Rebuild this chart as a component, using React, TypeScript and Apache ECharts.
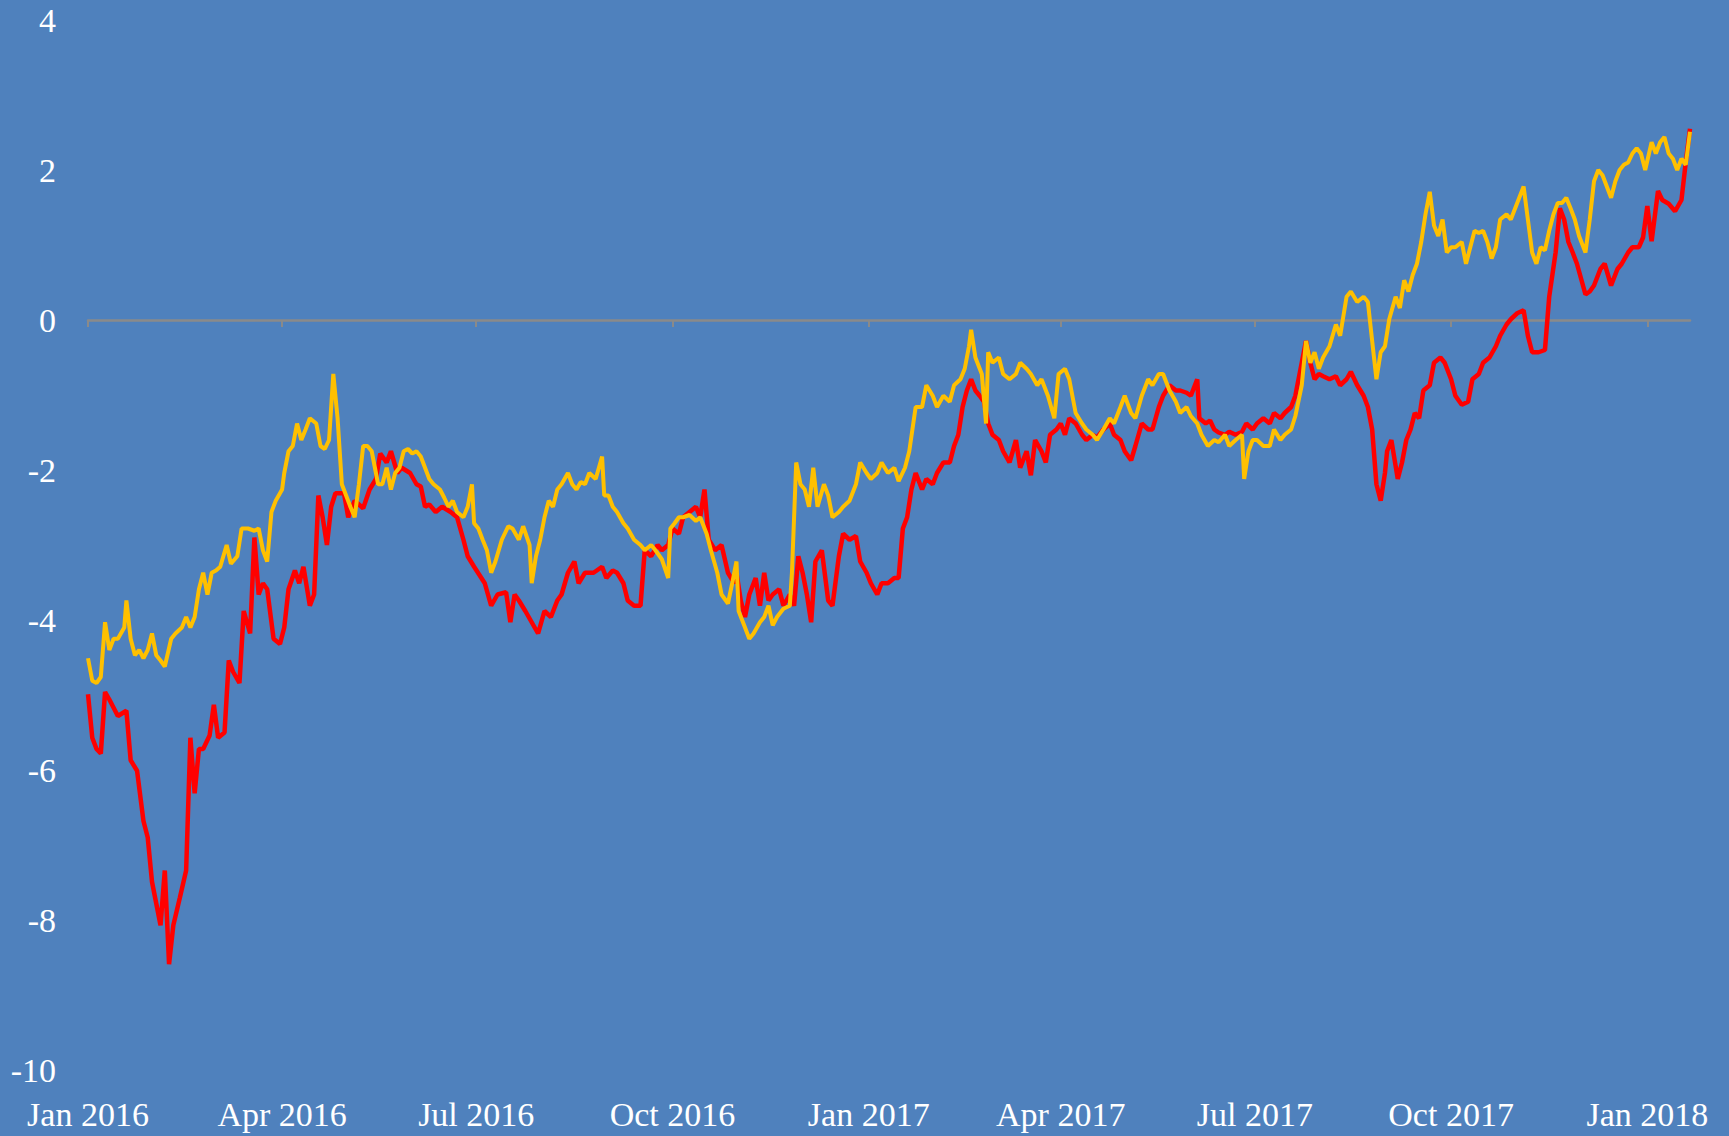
import React, { useEffect, useRef } from "react";
import * as echarts from "echarts";

// x values are days since 2016-01-01
const tickDays = [0, 91, 182, 274, 366, 456, 547, 639, 731];
const tickLabels = ["Jan 2016", "Apr 2016", "Jul 2016", "Oct 2016", "Jan 2017", "Apr 2017", "Jul 2017", "Oct 2017", "Jan 2018"];
const yTicks = [-10, -8, -6, -4, -2, 0, 2, 4];

const redDays = [0,2,4,6,8,10,14,18,20,23,26,28,30,32,34,36,38,40,43,46,48,50,52,54,57,59,61,64,66,68,71,73,76,78,80,82,84,87,90,92,94,97,99,101,104,106,108,110,112,114,116,120,122,125,129,132,135,137,140,142,145,147,151,154,156,158,160,163,166,170,173,176,178,181,186,189,192,196,198,200,202,205,208,211,214,217,220,222,225,228,230,233,237,241,243,246,248,251,253,256,259,261,264,267,269,272,274,277,279,282,285,287,289,291,294,297,300,303,304,306,308,310,313,315,317,319,321,324,326,329,331,333,335,337,339,341,344,347,349,352,354,357,360,362,365,367,370,372,375,378,380,382,384,386,388,391,393,396,398,401,404,406,408,410,412,414,416,418,420,422,424,427,429,432,435,437,440,442,444,447,449,451,454,456,458,460,463,466,468,471,473,476,479,481,484,486,489,491,494,497,499,502,504,507,510,512,515,517,520,521,524,526,528,530,533,535,538,541,543,546,548,551,554,556,559,561,564,566,569,571,573,575,577,579,582,585,587,590,592,595,598,600,602,604,606,608,609,611,614,616,618,620,622,624,626,629,631,634,636,639,641,644,647,649,652,654,657,660,662,665,667,670,673,675,677,680,683,685,688,690,692,694,696,698,702,704,706,709,711,714,717,719,722,724,727,729,731,733,736,738,741,744,747,749,751];
const redValues = [-4.99,-5.57,-5.72,-5.78,-4.96,-5.06,-5.28,-5.21,-5.87,-6.01,-6.68,-6.9,-7.49,-7.78,-8.07,-7.34,-8.59,-8.07,-7.71,-7.34,-5.57,-6.31,-5.72,-5.72,-5.54,-5.13,-5.57,-5.5,-4.54,-4.69,-4.84,-3.88,-4.18,-2.9,-3.66,-3.51,-3.59,-4.25,-4.32,-4.1,-3.59,-3.34,-3.51,-3.29,-3.81,-3.66,-2.34,-2.63,-3.0,-2.49,-2.31,-2.31,-2.63,-2.41,-2.51,-2.26,-2.12,-1.78,-1.9,-1.75,-2.04,-1.97,-2.04,-2.19,-2.22,-2.49,-2.46,-2.56,-2.49,-2.56,-2.63,-2.93,-3.15,-3.29,-3.51,-3.81,-3.66,-3.63,-4.03,-3.66,-3.74,-3.88,-4.03,-4.18,-3.88,-3.96,-3.74,-3.66,-3.37,-3.22,-3.51,-3.37,-3.37,-3.29,-3.44,-3.34,-3.37,-3.51,-3.74,-3.81,-3.81,-3.07,-3.15,-3.0,-3.07,-3.0,-2.78,-2.85,-2.63,-2.56,-2.49,-2.63,-2.26,-2.93,-3.07,-3.0,-3.37,-3.51,-3.37,-3.74,-3.96,-3.66,-3.44,-3.81,-3.37,-3.74,-3.66,-3.59,-3.81,-3.66,-3.81,-3.15,-3.37,-3.66,-4.03,-3.22,-3.07,-3.74,-3.81,-3.15,-2.85,-2.93,-2.88,-3.22,-3.37,-3.51,-3.66,-3.51,-3.51,-3.44,-3.44,-2.78,-2.63,-2.26,-2.04,-2.26,-2.12,-2.19,-2.04,-1.9,-1.9,-1.68,-1.53,-1.16,-0.94,-0.79,-0.94,-1.01,-1.09,-1.38,-1.53,-1.6,-1.75,-1.9,-1.6,-1.97,-1.75,-2.07,-1.6,-1.75,-1.9,-1.53,-1.46,-1.38,-1.53,-1.31,-1.38,-1.53,-1.6,-1.53,-1.57,-1.46,-1.38,-1.53,-1.6,-1.75,-1.87,-1.68,-1.38,-1.46,-1.46,-1.16,-1.01,-0.87,-0.94,-0.94,-0.97,-1.01,-0.79,-1.31,-1.38,-1.34,-1.46,-1.5,-1.53,-1.49,-1.53,-1.49,-1.38,-1.46,-1.38,-1.31,-1.38,-1.24,-1.31,-1.24,-1.16,-1.01,-0.57,-0.28,-0.57,-0.79,-0.72,-0.75,-0.79,-0.75,-0.87,-0.79,-0.69,-0.87,-1.01,-1.16,-1.46,-2.19,-2.41,-2.04,-1.75,-1.6,-2.12,-1.9,-1.6,-1.46,-1.24,-1.31,-0.94,-0.87,-0.57,-0.5,-0.57,-0.79,-1.01,-1.13,-1.09,-0.79,-0.72,-0.57,-0.5,-0.35,-0.21,-0.06,0.01,0.09,0.13,-0.21,-0.43,-0.43,-0.4,0.31,0.9,1.49,1.34,1.04,0.9,0.75,0.34,0.38,0.46,0.68,0.75,0.46,0.68,0.75,0.9,0.97,0.97,1.1,1.52,1.05,1.72,1.6,1.55,1.45,1.6,2.1,2.55];

const goldDays = [0,2,4,6,8,10,12,14,17,18,20,22,24,26,28,30,32,34,36,39,41,44,46,48,50,52,54,56,58,60,62,65,67,70,72,75,78,80,82,84,86,88,91,92,94,96,98,100,102,104,107,109,111,113,115,117,119,121,123,125,127,129,131,133,136,138,140,142,144,146,148,150,152,154,156,158,160,162,165,167,169,171,173,176,178,180,181,183,185,187,189,191,194,197,199,202,204,207,208,210,212,214,216,218,220,222,225,227,229,231,233,235,238,241,242,244,246,248,251,253,256,259,261,264,266,269,272,273,275,277,279,282,285,287,290,292,295,297,300,302,304,305,308,310,312,315,317,319,321,323,326,329,330,332,334,336,338,340,342,345,347,349,352,354,357,360,362,365,367,370,372,375,378,380,383,385,388,391,393,396,398,401,404,406,409,411,413,414,416,419,421,422,424,427,429,432,435,437,440,442,445,447,450,453,455,458,460,463,466,468,471,473,476,479,481,484,486,489,491,494,497,499,502,504,507,510,512,515,517,520,522,525,528,530,533,535,538,541,542,544,546,548,551,554,556,559,561,564,566,569,571,573,575,577,579,582,585,587,590,592,595,598,600,602,604,606,608,610,613,615,617,619,621,623,625,627,629,631,633,635,637,639,641,644,646,648,650,652,654,656,658,660,662,665,667,670,673,675,677,679,681,683,685,687,689,691,693,695,697,699,702,704,706,708,710,712,714,716,718,720,722,724,726,728,730,733,735,737,739,741,743,745,747,749,751];
const goldValues = [-4.51,-4.81,-4.84,-4.76,-4.03,-4.4,-4.25,-4.25,-4.1,-3.74,-4.25,-4.47,-4.4,-4.51,-4.4,-4.18,-4.47,-4.54,-4.62,-4.25,-4.18,-4.1,-3.96,-4.1,-3.96,-3.59,-3.37,-3.66,-3.37,-3.34,-3.29,-3.0,-3.25,-3.15,-2.78,-2.78,-2.81,-2.78,-3.07,-3.22,-2.56,-2.41,-2.26,-2.04,-1.75,-1.68,-1.38,-1.6,-1.46,-1.31,-1.38,-1.68,-1.72,-1.6,-0.72,-1.31,-2.19,-2.34,-2.49,-2.63,-2.19,-1.68,-1.68,-1.75,-2.19,-2.19,-1.97,-2.26,-2.04,-1.97,-1.75,-1.72,-1.78,-1.75,-1.82,-1.97,-2.12,-2.19,-2.26,-2.37,-2.49,-2.41,-2.56,-2.63,-2.49,-2.19,-2.71,-2.78,-2.93,-3.07,-3.37,-3.22,-2.93,-2.75,-2.78,-2.93,-2.75,-3.0,-3.51,-3.15,-2.93,-2.63,-2.41,-2.49,-2.26,-2.19,-2.04,-2.19,-2.26,-2.16,-2.19,-2.04,-2.12,-1.82,-2.34,-2.34,-2.49,-2.56,-2.71,-2.78,-2.93,-3.0,-3.07,-3.0,-3.07,-3.19,-3.44,-2.78,-2.71,-2.63,-2.63,-2.6,-2.68,-2.63,-2.85,-3.07,-3.37,-3.66,-3.78,-3.51,-3.22,-3.88,-4.1,-4.25,-4.18,-4.03,-3.96,-3.81,-4.07,-3.96,-3.85,-3.81,-3.37,-1.9,-2.19,-2.26,-2.49,-1.97,-2.49,-2.19,-2.34,-2.63,-2.56,-2.49,-2.41,-2.19,-1.9,-2.04,-2.12,-2.04,-1.9,-2.04,-1.97,-2.15,-1.97,-1.75,-1.16,-1.16,-0.87,-1.01,-1.16,-1.01,-1.09,-0.87,-0.79,-0.65,-0.35,-0.13,-0.5,-0.72,-1.38,-0.43,-0.57,-0.5,-0.72,-0.79,-0.72,-0.57,-0.65,-0.72,-0.87,-0.79,-1.01,-1.31,-0.72,-0.65,-0.79,-1.24,-1.38,-1.46,-1.53,-1.6,-1.46,-1.31,-1.38,-1.16,-1.01,-1.24,-1.31,-1.01,-0.79,-0.87,-0.72,-0.72,-0.94,-1.09,-1.24,-1.16,-1.28,-1.38,-1.53,-1.68,-1.6,-1.63,-1.53,-1.68,-1.6,-1.53,-2.12,-1.75,-1.6,-1.6,-1.68,-1.68,-1.46,-1.6,-1.53,-1.46,-1.28,-0.87,-0.28,-0.57,-0.43,-0.65,-0.5,-0.35,-0.06,-0.21,0.31,0.38,0.24,0.31,0.24,-0.28,-0.79,-0.43,-0.35,0.01,0.31,0.16,0.53,0.38,0.6,0.75,1.04,1.41,1.71,1.26,1.12,1.34,0.9,0.97,0.97,1.04,0.75,0.97,1.19,1.16,1.19,1.04,0.82,0.97,1.34,1.41,1.34,1.56,1.78,1.34,0.9,0.75,0.97,0.93,1.19,1.41,1.56,1.56,1.63,1.49,1.34,1.12,0.9,1.34,1.85,2.0,1.93,1.78,1.63,1.85,2.0,2.07,2.1,2.22,2.29,2.22,2.0,2.37,2.22,2.37,2.44,2.22,2.15,2.0,2.15,2.07,2.51];

const FONT = "'Liberation Serif', 'DejaVu Serif', serif";

export default function App() {
  const ref = useRef<HTMLDivElement>(null);
  useEffect(() => {
    if (!ref.current) return;
    const chart = echarts.init(ref.current, null, { renderer: "svg" });
    const labelFor = (v: number) => {
      const i = tickDays.indexOf(Math.round(v));
      return i >= 0 ? tickLabels[i] : "";
    };
    chart.setOption({
      animation: false,
      backgroundColor: "#4F81BD",
      grid: { left: 88, right: 39, top: 20, bottom: 66, containLabel: false },
      xAxis: [
        {
          type: "value",
          min: 0,
          max: 751,
          position: "bottom",
          axisLine: { show: true, onZero: true, lineStyle: { color: "#8A8A8A", width: 2.5 } },
          axisTick: { show: true, length: 7, customValues: tickDays, lineStyle: { color: "#8A8A8A", width: 2 } },
          axisLabel: { show: false },
          splitLine: { show: false },
        },
        {
          type: "value",
          min: 0,
          max: 751,
          position: "bottom",
          axisLine: { show: false, onZero: false },
          axisTick: { show: false },
          splitLine: { show: false },
          axisLabel: {
            show: true,
            customValues: tickDays,
            formatter: labelFor,
            color: "#FFFFFF",
            fontFamily: FONT,
            fontSize: 34,
            margin: 27,
          },
        },
      ],
      yAxis: {
        type: "value",
        min: -10,
        max: 4,
        interval: 2,
        axisLine: { show: false },
        axisTick: { show: false },
        splitLine: { show: false },
        axisLabel: {
          color: "#FFFFFF",
          fontFamily: FONT,
          fontSize: 34,
          margin: 32,
          customValues: yTicks,
        },
      },
      series: [
        {
          name: "red",
          type: "line",
          xAxisIndex: 0,
          showSymbol: false,
          data: redDays.map((d, i) => [d, redValues[i]]),
          lineStyle: { color: "#FF0000", width: 4.5 },
          itemStyle: { color: "#FF0000" },
        },
        {
          name: "gold",
          type: "line",
          xAxisIndex: 0,
          showSymbol: false,
          data: goldDays.map((d, i) => [d, goldValues[i]]),
          lineStyle: { color: "#FFC000", width: 4 },
          itemStyle: { color: "#FFC000" },
        },
      ],
    });
    return () => chart.dispose();
  }, []);
  return (
    <div
      ref={ref}
      style={{ position: "fixed", left: 0, top: 0, width: "1729px", height: "1136px" }}
    />
  );
}
